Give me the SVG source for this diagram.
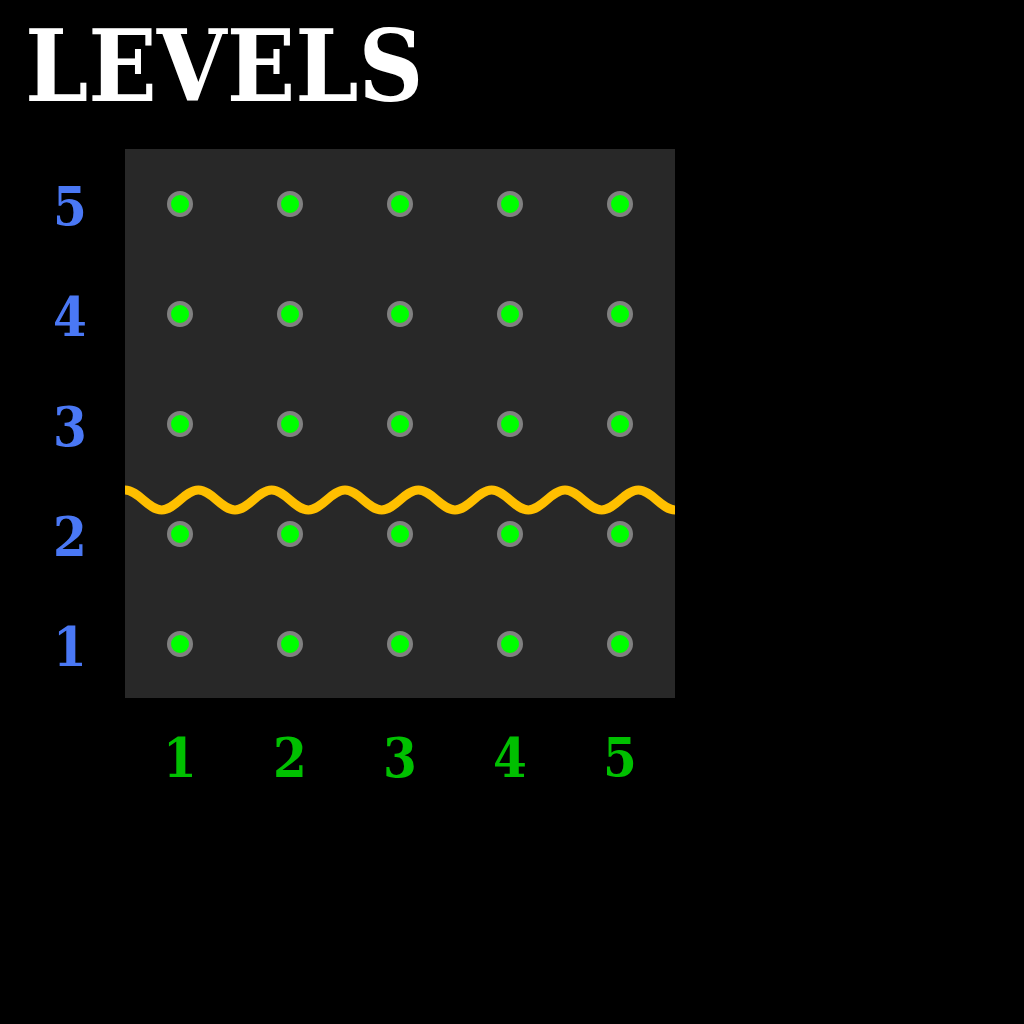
<svg xmlns="http://www.w3.org/2000/svg" width="1024" height="1024" viewBox="0 0 1024 1024">
<style>
.title{font-family:"DejaVu Serif Condensed","DejaVu Serif","Liberation Serif",serif;font-stretch:condensed;font-weight:bold;font-size:100px;fill:#ffffff}
.rowlab{font-family:"DejaVu Serif Condensed","DejaVu Serif","Liberation Serif",serif;font-stretch:condensed;font-weight:bold;font-size:54px;fill:#4a78f5;text-anchor:middle}
.collab{font-family:"DejaVu Serif Condensed","DejaVu Serif","Liberation Serif",serif;font-stretch:condensed;font-weight:bold;font-size:54px;fill:#00c000;text-anchor:middle}
.dot{fill:#00ff00;stroke:#808080;stroke-width:4}
.wave{fill:none;stroke:#ffbf00;stroke-width:9;stroke-linecap:butt}
</style>
<rect x="0" y="0" width="1024" height="1024" fill="#000000"/>
<text class="title" x="25" y="101">LEVELS</text>
<rect id="panel" x="125" y="149" width="550" height="549" fill="#282828"/>
<g id="row-labels">
<text class="rowlab" x="70" y="226">5</text>
<text class="rowlab" x="70" y="336">4</text>
<text class="rowlab" x="70" y="446">3</text>
<text class="rowlab" x="70" y="556">2</text>
<text class="rowlab" x="70" y="666">1</text>
</g>
<g id="col-labels">
<text class="collab" x="180" y="777">1</text>
<text class="collab" x="290" y="777">2</text>
<text class="collab" x="400" y="777">3</text>
<text class="collab" x="510" y="777">4</text>
<text class="collab" x="620" y="777">5</text>
</g>
<g id="dots">
<circle class="dot" cx="180" cy="204" r="11"/><circle class="dot" cx="290" cy="204" r="11"/><circle class="dot" cx="400" cy="204" r="11"/><circle class="dot" cx="510" cy="204" r="11"/><circle class="dot" cx="620" cy="204" r="11"/>
<circle class="dot" cx="180" cy="314" r="11"/><circle class="dot" cx="290" cy="314" r="11"/><circle class="dot" cx="400" cy="314" r="11"/><circle class="dot" cx="510" cy="314" r="11"/><circle class="dot" cx="620" cy="314" r="11"/>
<circle class="dot" cx="180" cy="424" r="11"/><circle class="dot" cx="290" cy="424" r="11"/><circle class="dot" cx="400" cy="424" r="11"/><circle class="dot" cx="510" cy="424" r="11"/><circle class="dot" cx="620" cy="424" r="11"/>
<circle class="dot" cx="180" cy="534" r="11"/><circle class="dot" cx="290" cy="534" r="11"/><circle class="dot" cx="400" cy="534" r="11"/><circle class="dot" cx="510" cy="534" r="11"/><circle class="dot" cx="620" cy="534" r="11"/>
<circle class="dot" cx="180" cy="644" r="11"/><circle class="dot" cx="290" cy="644" r="11"/><circle class="dot" cx="400" cy="644" r="11"/><circle class="dot" cx="510" cy="644" r="11"/><circle class="dot" cx="620" cy="644" r="11"/>
</g>
<g id="connectors">
<path class="wave" d="M125,490 C138.32,490 148.35,510 161.67,510 S185.01,490 198.33,490 S221.68,510 235,510 S258.35,490 271.67,490 S295.01,510 308.33,510 S331.68,490 345,490 S368.35,510 381.67,510 S405.01,490 418.33,490 S441.68,510 455,510 S478.35,490 491.67,490 S515.01,510 528.33,510 S551.68,490 565,490 S588.35,510 601.67,510 S625.01,490 638.33,490 S661.68,510 675,510"/>
</g>
</svg>
